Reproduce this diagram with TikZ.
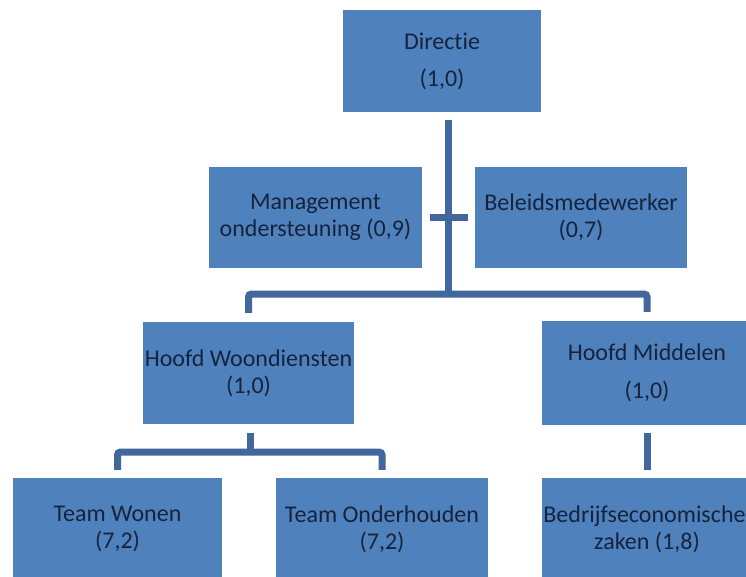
\documentclass[tikz,border=0pt]{standalone}
\usepackage{fontspec}
\setmainfont{Carlito}[Ligatures=NoCommon]
\definecolor{boxblue}{HTML}{4F81BD}
\definecolor{lineblue}{HTML}{41679C}
\definecolor{txtnavy}{HTML}{16233D}
\tikzset{
  orgbox/.style={fill=boxblue, draw=none, inner sep=0pt, align=center,
    text=txtnavy, font=\fontsize{24}{27}\selectfont},
  conn/.style={draw=lineblue, line width=7pt, rounded corners=3pt}
}
\begin{document}
\begin{tikzpicture}[x=1pt,y=-1pt]
\clip (0,0) rectangle (746,576);
\fill[white] (0,0) rectangle (746,576);
% boxes
\node[orgbox, minimum width=198pt, minimum height=102pt] (dir) at (442,61) {Directie\\[10pt](1,0)};
\node[orgbox, minimum width=213pt, minimum height=101pt] (mgmt) at (315.5,217.5) {Management\\ondersteuning (0,9)};
\node[orgbox, minimum width=212pt, minimum height=101pt] (bel) at (581,217.5) {Beleidsmedewerker\\(0,7)};
\node[orgbox, minimum width=211pt, minimum height=102pt] (hw) at (248.5,373) {Hoofd Woondiensten\\(1,0)};
\node[orgbox, minimum width=211pt, minimum height=104pt] (hm) at (647,373) {Hoofd Middelen\\[11pt](1,0)};
\node[orgbox, minimum width=209pt, minimum height=102pt] (tw) at (117.5,529) {Team Wonen\\(7,2)};
\node[orgbox, minimum width=212pt, minimum height=102pt] (to) at (382,529) {Team Onderhouden\\(7,2)};
\node[orgbox, minimum width=211pt, minimum height=102pt] (bz) at (647,529) {Bedrijfseconomische\kern5pt\\zaken (1,8)};
% junctions
\coordinate (dtop) at (448,120);
\coordinate (bar) at (448,294);
\coordinate (bar2) at (250,452);
% connectors
\draw[conn] (dtop) -- (bar);
\draw[conn] ([xshift=8pt]mgmt.east) -- ([xshift=-7pt]bel.west);
\draw[conn] ([yshift=9pt]hw.north) |- (bar) -| ([yshift=9pt]hm.north);
\draw[conn] ([yshift=-9pt]hw.south -| bar2) -- (bar2);
\draw[conn] ([yshift=8pt]tw.north) |- (bar2) -| ([yshift=8pt]to.north);
\draw[conn] ([yshift=-8pt]hm.south) -- ([yshift=8pt]bz.north);
\end{tikzpicture}
\end{document}
